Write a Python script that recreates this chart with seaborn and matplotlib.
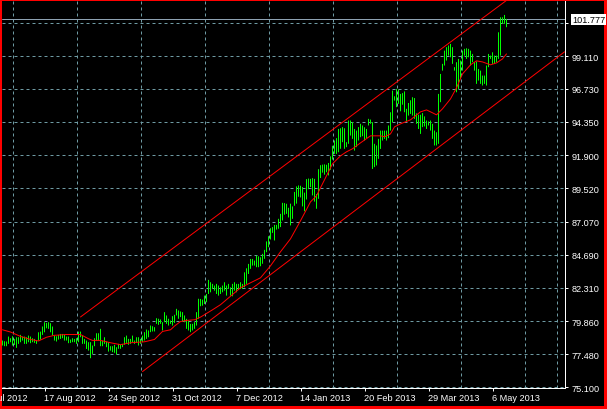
import matplotlib
matplotlib.use("Agg")
import matplotlib.pyplot as plt
import seaborn as sns
from matplotlib.patches import Rectangle

# ---------------- data ----------------
# daily bar highs / lows, bar index 0 .. 252
highs = [
    78.47, 78.42, 78.40, 78.76, 78.64, 78.78, 78.59, 78.71, 78.71, 78.88,
    78.76, 78.76, 78.71, 78.83, 78.76, 78.64, 78.59, 78.47, 79.07, 79.12,
    79.49, 79.80, 79.75, 79.80, 79.73, 79.49, 78.83, 78.78, 78.88, 78.95,
    78.95, 78.88, 78.76, 78.76, 78.54, 78.64, 78.59, 78.64, 79.12, 79.12,
    78.83, 78.59, 78.47, 78.35, 78.35, 78.11, 78.64, 79.00, 79.00,
    79.32, 78.47, 78.71, 78.40, 78.35, 78.06, 78.06, 78.16, 77.99, 78.23,
    78.16, 78.23, 78.71, 78.83, 78.59, 78.59, 78.83, 78.47, 78.71, 78.71,
    78.59, 78.83, 79.08, 79.27, 79.20, 79.56, 79.51, 79.44, 80.09, 80.05,
    80.00, 79.80, 80.53, 80.29, 80.05, 79.92, 80.24, 80.34, 80.77, 80.65,
    80.58, 80.53, 80.29, 80.05, 79.92, 79.68, 79.68, 79.80, 80.53, 81.50,
    81.49, 81.44, 81.73, 81.85, 82.87, 82.70, 82.58, 82.46, 82.58, 82.46,
    82.33, 82.46, 82.70, 82.46, 82.58, 82.33, 82.58, 82.70, 82.58, 82.58,
    82.70, 82.58, 83.42, 83.71, 84.03, 84.39, 84.39, 84.27, 84.63, 84.58,
    84.51,
    84.76, 85.05, 85.66, 86.04, 86.62, 86.70, 86.86, 86.86, 87.30, 87.66,
    88.46, 88.44, 88.39, 88.10, 88.40, 88.20, 89.25, 89.65, 89.72, 89.70,
    89.60, 89.20, 90.18, 90.22, 90.20, 90.25, 90.20, 89.10, 90.90, 91.19,
    91.23, 91.25, 91.22, 91.35, 91.83, 92.60, 92.98, 93.15, 93.82, 93.87,
    93.95, 93.87, 92.86, 94.43, 94.43, 94.31, 93.82, 93.70, 93.95, 94.19,
    94.07, 93.94, 93.82, 94.55, 94.50, 94.31, 92.74, 92.62, 93.10, 93.70,
    93.70, 93.70, 93.70, 94.07, 95.03, 96.60, 96.19, 96.72, 96.68, 96.36,
    96.42, 96.54, 95.28, 95.70, 95.90, 96.12, 96.06, 94.95, 94.85, 94.85,
    94.97, 94.73, 94.43, 94.36, 94.43, 94.19, 93.70, 93.58, 96.36, 97.81,
    98.54, 99.50, 99.75, 99.87, 99.99, 99.75, 98.30, 98.66, 98.90, 98.78,
    99.50, 99.63, 99.67, 99.63, 99.50, 99.26, 98.66, 98.71, 98.17, 98.05,
    97.69, 97.69, 98.42, 99.26, 99.14, 99.38, 99.14, 99.14, 100.83, 101.92,
    101.92, 102.09, 101.80,
]
lows = [
    78.11, 78.06, 78.06, 78.23, 78.35, 78.11, 78.15, 77.94, 78.23, 78.35,
    78.47, 78.23, 78.23, 78.35, 78.28, 78.35, 78.30, 78.23, 78.47, 78.54,
    78.88, 79.07, 79.36, 79.32, 79.07, 78.83, 78.47, 78.40, 78.54, 78.59,
    78.64, 78.47, 78.47, 78.28, 78.30, 78.35, 78.35, 78.23, 78.35, 78.71,
    78.23, 78.23, 77.86, 77.74, 77.19, 77.50, 78.06, 78.47, 78.47,
    78.06, 78.06, 78.23, 77.99, 77.67, 77.74, 77.63, 77.58, 77.46, 77.87,
    77.87, 77.99, 78.16, 78.30, 78.16, 78.23, 78.35, 78.23, 78.30, 78.11,
    78.23, 78.35, 78.47, 78.59, 78.71, 79.08, 79.13, 79.13, 79.68, 79.61,
    79.68, 79.20, 79.80, 79.68, 79.56, 79.68, 79.56, 79.75, 80.29, 80.05,
    80.17, 79.85, 79.80, 79.32, 79.20, 79.08, 79.20, 79.32, 79.56, 80.05,
    80.96, 81.00, 81.12, 81.25, 81.85, 81.97, 82.21, 82.09, 81.85, 81.73,
    81.85, 81.97, 82.09, 81.73, 82.21, 81.73, 81.68, 82.09, 81.97, 82.16,
    82.21, 82.21, 82.33, 82.58, 83.30, 83.67, 83.91, 83.91, 83.79, 83.79,
    83.86,
    84.04, 84.40, 84.88, 85.24, 85.80, 86.28, 85.73, 86.52, 86.58, 86.70,
    87.18, 87.60, 87.66, 87.40, 86.82, 87.30, 88.25, 88.40, 88.90, 88.85,
    88.20, 87.85, 88.70, 89.45, 89.60, 89.00, 88.55, 88.03, 88.75, 90.26,
    90.65, 90.50, 90.68, 90.45, 90.86, 91.60, 92.01, 92.01, 92.13, 92.38,
    92.86, 92.38, 92.50, 92.74, 93.34, 93.10, 92.25, 92.50, 92.98, 93.22,
    93.29, 92.98, 93.15, 94.07, 94.19, 90.92, 91.05, 91.17, 91.65, 92.37,
    92.98, 93.10, 92.98, 93.15, 93.70, 94.31, 95.88, 95.40, 95.64, 95.10,
    95.58, 95.03, 94.37, 94.79, 94.91, 94.79, 94.55, 94.19, 93.82, 93.46,
    93.95, 94.00, 93.82, 94.07, 93.70, 93.10, 92.62, 92.62, 92.74, 95.76,
    98.05, 98.42, 98.78, 99.14, 99.02, 98.54, 98.05, 96.48, 96.72, 97.45,
    98.05, 99.14, 98.90, 99.02, 98.42, 98.66, 98.05, 97.09, 97.33, 97.09,
    96.97, 97.09, 96.97, 98.30, 98.90, 98.54, 98.54, 98.66, 98.90, 99.14,
    101.44, 101.44, 101.20,
]
bar_index = list(range(len(highs)))

# moving average (red line), sampled along the bars
ma_index = [0, 4, 9, 14, 18, 22, 26, 32, 39, 43, 45, 49, 54, 59, 64, 71, 74, 76,
            80, 84, 86, 89, 92, 96, 99, 105, 109, 119, 129, 134, 139, 144, 149,
            154, 157, 162, 165, 169, 172, 175, 179, 184, 189, 191, 194, 196, 199,
            204, 209, 212, 215, 217, 220, 224, 227, 230, 234, 237, 240, 244, 247,
            250, 252]
ma_value = [79.25, 79.09, 78.77, 78.55, 78.44, 78.71, 78.85, 78.91, 78.91, 78.60,
            78.48, 78.48, 78.31, 78.17, 78.31, 78.38, 78.48, 78.55, 79.13, 79.25,
            79.52, 79.85, 79.93, 79.98, 80.17, 80.70, 81.07, 82.30, 83.02, 83.89,
            84.91, 85.85, 87.16, 88.53, 88.97, 90.42, 91.29, 91.87, 92.16, 92.38,
            92.81, 93.32, 93.32, 93.25, 93.46, 93.97, 94.19, 94.48, 95.06, 95.20,
            94.99, 94.84, 95.28, 96.00, 96.80, 97.81, 98.47, 98.76, 98.68, 98.47,
            98.61, 98.90, 99.26]

# channel lines (anchor bar index, price)
upper_channel_x = [39, 281]
upper_channel_y = [80.18, 106.27]
lower_channel_x = [70, 281]
lower_channel_y = [76.22, 99.41]

last_price = 101.777
last_price_label = "101.777"

# axis ticks
price_ticks = [75.10, 77.48, 79.86, 82.31, 84.69, 87.07, 89.52, 91.90, 94.35, 96.73, 99.11, 101.49]
price_labels = ["75.100", "77.480", "79.860", "82.310", "84.690", "87.070", "89.520",
                "91.900", "94.350", "96.730", "99.110", ""]
date_ticks = [21, 53, 85, 117, 149, 181, 213, 245]
date_labels = ["17 Aug 2012", "24 Sep 2012", "31 Oct 2012", "7 Dec 2012",
               "14 Jan 2013", "20 Feb 2013", "29 Mar 2013", "6 May 2013"]
cut_date_tick = -11
cut_date_label = "10 Jul 2012"
grid_x = list(range(5, 281, 16))

# ---------------- style ----------------
sns.set_style("dark")
plt.rcParams["font.family"] = ["Liberation Sans", "DejaVu Sans"]

W, H = 607, 410
PX = 0.72  # points per pixel at dpi 100
grid_col = "#6e9aa3"
fs = 6.6

fig = plt.figure(figsize=(W / 100, H / 100), dpi=100, facecolor="#ff0000")
fig.patches.append(Rectangle((2 / W, 3 / H), 602 / W, 405 / H, transform=fig.transFigure,
                             facecolor="black", edgecolor="none", zorder=-1))
ax = fig.add_axes([2 / W, (H - 389) / H, 563 / W, 387 / H])
ax.set_facecolor("black")
ax.set_axisbelow(True)

ax.set_xlim(-0.25, 281.25)
ax.set_ylim(75.028, 103.100)

# price line
ax.axhline(last_price, color="#8ea2b2", lw=PX, zorder=1.8)

# bars
ax.vlines(bar_index, lows, highs, colors="#00ff00", lw=1.0 * PX, zorder=2, snap=False)

# channel + MA
line_kw = dict(color="#ff0000", lw=1.0 * PX, zorder=3)
sns.lineplot(x=upper_channel_x, y=upper_channel_y, ax=ax, **line_kw)
sns.lineplot(x=lower_channel_x, y=lower_channel_y, ax=ax, **line_kw)
sns.lineplot(x=ma_index, y=ma_value, ax=ax, **line_kw)

# spines
for s in ["left", "top"]:
    ax.spines[s].set_visible(False)
for s in ["right", "bottom"]:
    ax.spines[s].set_visible(True)
    ax.spines[s].set_color("white")
    ax.spines[s].set_linewidth(PX)

# y axis on right
ax.yaxis.tick_right()
ax.set_yticks(price_ticks)
ax.set_yticklabels(price_labels)
ax.tick_params(axis="y", which="major", direction="out", length=3 * PX, width=PX,
               colors="white", labelsize=fs, pad=3.5 * PX, right=True, left=False)
ax.yaxis.grid(True, color=grid_col, lw=PX, linestyle=(0, (3, 3)))

# x axis
ax.set_xticks(date_ticks)
ax.set_xticklabels(date_labels)
ax.set_xticks(grid_x, minor=True)
ax.tick_params(axis="x", which="major", direction="out", length=3 * PX, width=PX,
               colors="white", labelsize=fs, pad=2 * PX, bottom=True)
ax.tick_params(axis="x", which="minor", length=0)
for lbl in ax.get_xticklabels():
    lbl.set_ha("left")
ax.xaxis.grid(False, which="major")
ax.xaxis.grid(True, which="minor", color=grid_col, lw=PX, linestyle=(0, (3, 3)))

ax.annotate(cut_date_label, xy=(cut_date_tick, 0), xycoords=("data", "axes fraction"),
            xytext=(0, -5 * PX), textcoords="offset points", ha="left", va="top",
            color="white", fontsize=fs, annotation_clip=False)

# last price box
ax.annotate(last_price_label, xy=(1, last_price), xycoords=("axes fraction", "data"),
            xytext=(7 * PX, 0), textcoords="offset points", ha="left", va="center",
            color="black", fontsize=fs, annotation_clip=False, zorder=5,
            bbox=dict(boxstyle="square,pad=0.12", fc="white", ec="none"))

fig.savefig("out.png", dpi=100, facecolor=fig.get_facecolor())
